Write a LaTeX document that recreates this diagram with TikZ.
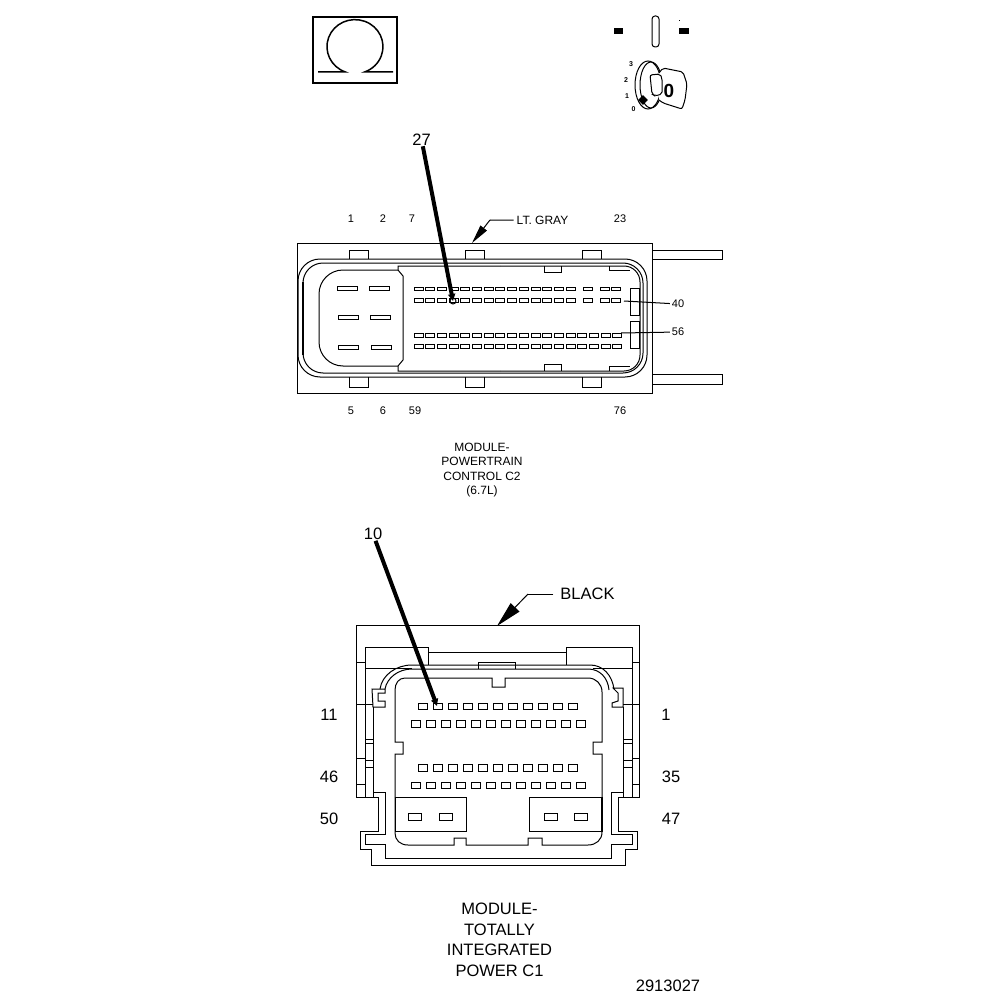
\documentclass[tikz,border=0pt]{standalone}
\usepackage{fontspec}
\setmainfont{Liberation Sans}
\usetikzlibrary{arrows,arrows.meta,positioning}

\begin{document}
\begin{tikzpicture}[x=1pt,y=-1pt,line width=1pt,
	every node/.style={inner sep=0pt,outer sep=1pt}]
	\tikzstyle{small text}=[font=\fontsize{11}{14.3}\selectfont,align=center]
	\tikzstyle{label text}=[font=\fontsize{12}{14.3}\selectfont,align=center]
	\tikzstyle{big text}=[font=\fontsize{16.5}{20.5}\selectfont,align=center]
	\tikzstyle{pin line}=[line width=4pt,-{Stealth[length=7pt,width=7pt,inset=0pt]}]
	\tikzstyle{color arrow}=[line width=1pt,-{Stealth[length=19pt,width=8pt,inset=0pt]}]
	\tikzstyle{black arrow}=[line width=1pt,-{Stealth[length=26pt,width=12pt,inset=0pt]}]
	\tikzstyle{pin}=[line width=1pt]
	\useasboundingbox (0,0) rectangle (1008,1000);

	% ignition key and omega box
	\draw[line width=2pt] (313,17) rectangle (397,83);
	\draw[line width=1.5pt] (318,72) -- (345.4,72) arc (110:430:28 and 27) -- (393,72);
	\fill (614,28) rectangle (623,34);
	\fill (679,28) rectangle (689,34);
	\fill (678.5,20.5) rectangle (679.5,21.5);
	\draw[rounded corners=3pt] (652,16) rectangle (659,47);
	\draw (648,85) ellipse (13 and 24);
	\draw (651,85) ellipse (11 and 23);
	\draw[fill=white,rounded corners=2pt] (659,73) -- (663,68) -- (683,72) -- (687,84) -- (685,100) -- (682,109) -- (663,103) -- (659,100);
	\draw[fill=white,rounded corners=2pt] (650,75) -- (660,74) -- (662,78) -- (662,94) -- (655,96) -- (652,94) -- cycle;
	\fill[rotate around={45:(643,100)}] (639.5,96.5) rectangle (646.5,103.5);
	\node[font=\fontsize{19}{19}\bfseries\selectfont] (key0) at (669,91) {0};
	\foreach \t/\kx/\ky in {3/631/64,2/626/80,1/627/96,0/633.5/109}
		\node[font=\fontsize{7}{7}\bfseries\selectfont] (key\t) at (\kx,\ky) {\t};

	% upper connector
	\draw (297,243) rectangle (652,393);
	\draw (652,250) -- (722,250) -- (722,259) -- (652,259);
	\draw (652,374) -- (722,374) -- (722,384) -- (652,384);
	\foreach \tx in {349,465,582} {
		\draw[fill=white] (\tx,259) -- (\tx,250) -- (\tx+19,250) -- (\tx+19,259);
		\draw[fill=white] (\tx,377) -- (\tx,387) -- (\tx+19,387) -- (\tx+19,377);
	}
	\draw[rounded corners=22pt] (298,300) -- (298,259) -- (647,259) -- (647,377) -- (298,377) -- cycle;
	\draw[rounded corners=20pt] (303,300) -- (303,263) -- (643,263) -- (643,373) -- (303,373) -- cycle;
	\draw[line width=2.4pt] (303,282) -- (303,355);
	\draw[rounded corners=16pt] (500,266) -- (640,266) -- (640,371) -- (500,371);
	\draw (500,266) -- (398,266) -- (398,270) -- (403,276) -- (403,360) -- (398,366) -- (398,371) -- (500,371);
	\draw[rounded corners=24pt] (398,270) -- (319,270) -- (319,366) -- (398,366);
	\draw (544,266) -- (544,272) -- (561,272) -- (561,266);
	\draw (544,371) -- (544,364) -- (561,364) -- (561,371);
	\draw (609,266) -- (609,270) -- (630,270);
	\draw (609,371) -- (609,366) -- (630,366);
	\draw (630,288) rectangle (639,315);
	\draw (630,321) rectangle (639,348);
	\foreach \bx/\by in {337/288,369/288,338/317,370/317,338/347,371/347}
		\draw[pin] (\bx,\by-2) rectangle (\bx+20,\by+2);
	% pin rows
	\foreach \k in {0,...,13} {
		\draw[pin] (414+\k*11.7,287.5) rectangle (423+\k*11.7,290.5);
		\draw[pin] (414+\k*11.7,298) rectangle (423+\k*11.7,302);
	}
	\foreach \px in {583,600,611} {
		\draw[pin] (\px,287.5) rectangle (\px+9,290.5);
		\draw[pin] (\px,298) rectangle (\px+9,302);
	}
	\foreach \k in {0,...,17} {
		\draw[pin] (414+\k*11.7,333) rectangle (423+\k*11.7,337);
		\draw[pin] (414+\k*11.7,344) rectangle (423+\k*11.7,348);
	}
	\coordinate (pin27) at (453,301);
	\coordinate (pin40) at (624,301);
	\coordinate (pin56) at (621,333);
	\coordinate (lttip) at (472,243);
	\coordinate (ltbend) at (490,220);

	\node[big text] (n27) at (421.5,139.5) {27};
	\node[small text] (n1) at (351,219) {1};
	\node[small text] (n2) at (383,219) {2};
	\node[small text] (n7) at (412,219) {7};
	\node[small text] (n23) at (620,219) {23};
	\node[small text] (n5) at (351,411) {5};
	\node[small text] (n6) at (383,411) {6};
	\node[small text] (n59) at (415,411) {59};
	\node[small text] (n76) at (620,411) {76};
	\node[small text,outer sep=2pt] (n40) at (678,304) {40};
	\node[small text,outer sep=2pt] (n56) at (678,332) {56};
	\node[label text,outer sep=3pt] (ltgray) at (542.5,220.5) {LT. GRAY};
	\node[label text] (c2label) at (482,470) {MODULE-\\POWERTRAIN\\CONTROL C2\\(6.7L)};

	\draw[pin line] (n27) -- (pin27);
	\draw (pin27) circle (3);
	\path[draw] (n40) -- (pin40)
		(n56) -- (pin56);
	\draw (ltgray) -- (ltbend);
	\draw[color arrow] (ltbend) -- (lttip);

	% lower connector
	\draw (356,797) -- (356,625) -- (639,625) -- (639,797) -- (618,797) -- (618,831) -- (637,831) -- (637,849)
		-- (625,849) -- (625,865) -- (371,865) -- (371,849) -- (360,849) -- (360,831) -- (378,831) -- (378,797) -- cycle;
	\draw (373,797) -- (373,792) -- (385,792) -- (385,834) -- (365,834) -- (365,844) -- (385,844) -- (385,858)
		-- (611,858) -- (611,844) -- (632,844) -- (632,834) -- (611,834) -- (611,792) -- (623,792) -- (623,797);
	% side columns
	\draw (365,797) -- (365,647) -- (428,647) -- (428,665);
	\draw (632,797) -- (632,647) -- (566,647) -- (566,665);
	\draw (428,652) -- (566,652);
	\draw (373,792) -- (373,707);
	\draw (623,792) -- (623,707);
	\foreach \sy in {739,743,760,767} {
		\draw (365,\sy) -- (373,\sy);
		\draw (623,\sy) -- (632,\sy);
	}
	\foreach \sy in {662,704,758,784} {
		\draw (356,\sy) -- (365,\sy);
		\draw (632,\sy) -- (639,\sy);
	}
	\draw (365,704) -- (373,704);
	\draw (623,704) -- (632,704);
	\draw (365,668) -- (412,668);
	\draw (593,668) -- (632,668);
	% seal
	\draw (380,689) .. controls (382,675) and (396,665) .. (412,665) -- (590,665) .. controls (603,665) and (612,675) .. (614,689);
	\draw (385,689) .. controls (387,678) and (398,669) .. (412,669) -- (588,669) .. controls (600,669) and (608,678) .. (609,690);
	\draw (372,689) -- (385,689) -- (385,693) -- (378,693) -- (378,701) -- (385,701) -- (385,707) -- (373,707) -- cycle;
	\draw (623,688) -- (613,688) -- (618,693) -- (618,701) -- (612,703) -- (612,707) -- (623,707) -- cycle;
	\draw (478,669) -- (478,662) -- (515,662) -- (515,669);
	% cavity
	\draw (395,797) -- (395,754) -- (403,754) -- (403,742) -- (395,742) -- (395,690)
		.. controls (395,683) and (399,678) .. (405,678) -- (492,678) -- (492,687) -- (505,687) -- (505,678) -- (588,678)
		.. controls (596,678) and (602,684) .. (602,692) -- (602,742) -- (593,742) -- (593,754) -- (602,754) -- (602,797);
	\draw (395,797) -- (395,833) .. controls (395,840) and (400,845) .. (408,845) -- (454,845) -- (454,838) -- (466,838) -- (466,845)
		-- (528,845) -- (528,838) -- (542,838) -- (542,845) -- (588,845) .. controls (596,845) and (602,840) .. (602,832);
	\draw (395,797) rectangle (466,831);
	\draw (529,797) rectangle (602,831);
	\draw[line width=2.4pt] (602,797) -- (602,832);
	\foreach \bx in {408,439,544,574}
		\draw[pin] (\bx,813) rectangle (\bx+13.5,820);
	\foreach \k in {0,...,10} {
		\draw[pin] (418+\k*15,703) rectangle (427+\k*15,709);
		\draw[pin] (418+\k*15,764) rectangle (427+\k*15,771);
	}
	\foreach \k in {0,...,11} {
		\draw[pin] (411+\k*15,720) rectangle (420+\k*15,727);
		\draw[pin] (411+\k*15,782) rectangle (420+\k*15,788);
	}
	\coordinate (pin10) at (437,706);
	\coordinate (blacktip) at (497,626);
	\coordinate (blackbend) at (528,594);

	\node[big text] (n10) at (373,534) {10};
	\node[big text] (n11) at (329,715) {11};
	\node[big text] (n46) at (329,777) {46};
	\node[big text] (n50) at (329,819) {50};
	\node[big text] (m1) at (666,715) {1};
	\node[big text] (n35) at (671,777) {35};
	\node[big text] (n47) at (671,819) {47};
	\node[big text,outer sep=7pt] (black) at (587.5,594) {BLACK};
	\node[big text] (c1label) at (499.5,940) {MODULE-\\TOTALLY\\INTEGRATED\\POWER C1};
	\node[big text] (partno) at (668,986) {2913027};

	\draw[pin line] (n10) -- (pin10);
	\draw (black) -- (blackbend);
	\draw[black arrow] (blackbend) -- (blacktip);
\end{tikzpicture}
\end{document}
